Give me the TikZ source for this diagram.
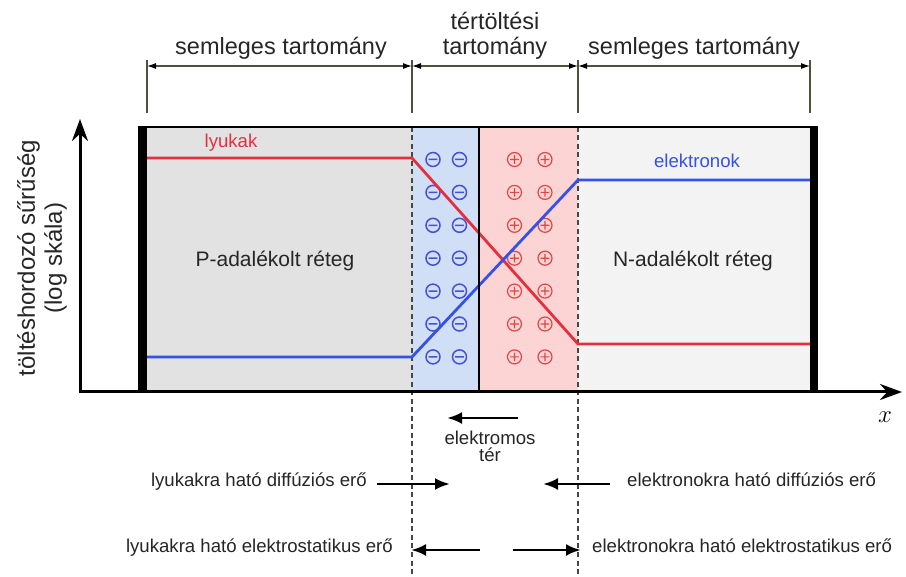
\documentclass[tikz,border=0pt]{standalone}
\usepackage{fontspec}
\setmainfont{Liberation Sans}
\usetikzlibrary{arrows.meta}
\definecolor{pgray}{RGB}{226,226,226}
\definecolor{ngray}{RGB}{243,243,243}
\definecolor{bluereg}{RGB}{208,222,246}
\definecolor{redreg}{RGB}{252,212,212}
\definecolor{holered}{RGB}{228,48,62}
\definecolor{elecblue}{RGB}{52,82,232}
\definecolor{minuscol}{RGB}{70,80,215}
\definecolor{pluscol}{RGB}{225,70,70}
\definecolor{dimcol}{RGB}{80,80,60}
\definecolor{dashcol}{RGB}{70,70,70}
\tikzset{
  toplab/.style={font=\fontsize{23.5}{25}\selectfont, text=black!85, inner sep=0pt, anchor=base},
  reglab/.style={font=\fontsize{21}{24}\selectfont, text=black!85, inner sep=0pt, anchor=base},
  smalllab/.style={font=\fontsize{18.6}{19}\selectfont, text=black!85, inner sep=0pt},
  ylab/.style={font=\fontsize{24}{27}\selectfont, text=black!85, inner sep=0pt, align=center, rotate=90},
  holeline/.style={holered, line width=2.8},
  elecline/.style={elecblue, line width=2.8},
  dashline/.style={dashcol, line width=1.2, dash pattern=on 5pt off 3.5pt},
  extline/.style={dimcol, line width=1.3},
  dimline/.style={dimcol, line width=1.1, {Latex[length=9pt,width=6pt,black]}-{Latex[length=9pt,width=6pt,black]}},
  axisline/.style={black, line width=3, -{Stealth[length=22pt,width=16pt]}},
  forcearrow/.style={black, line width=2.8, -{Latex[length=15pt,width=12pt]}},
  negq/.pic={\draw[minuscol, line width=1.5] (0,0) circle (7) (-4.3,0) -- (4.3,0);},
  posq/.pic={\draw[pluscol, line width=1.2] (0,0) circle (7) (-4.3,0) -- (4.3,0) (0,-4.3) -- (0,4.3);}
}
\begin{document}
\begin{tikzpicture}[x=1pt,y=-1pt]
\useasboundingbox (0,0) rectangle (906,577);
\fill[white] (0,0) rectangle (906,577);
% regions
\fill[pgray] (147,127) rectangle (412,392);
\fill[bluereg] (412,127) rectangle (479,392);
\fill[redreg] (479,127) rectangle (578,392);
\fill[ngray] (578,127) rectangle (810,392);
% charges
\foreach \r in {0,...,6} {
  \pic at (433,{159.5+32.9*\r}) {negq};
  \pic at (459.5,{159.5+32.9*\r}) {negq};
  \pic at (514.5,{159.5+32.9*\r}) {posq};
  \pic at (545,{159.5+32.9*\r}) {posq};
}
% dashed boundaries
\coordinate (da1) at (412,127); \coordinate (da2) at (412,577);
\coordinate (db1) at (578,127); \coordinate (db2) at (578,577);
\draw[dashline] (da1) -- (da2);
\draw[dashline] (db1) -- (db2);
% concentration lines
\draw[holeline] (147,158) -- (412,158) -- (578,344) -- (810,344);
\draw[elecline] (147,357) -- (412,357) -- (578,180) -- (810,180);
% box
\draw[black, line width=1.8] (479,127) -- (479,392);
\draw[black, line width=2.6] (139,127) -- (818,127);
\fill[black] (138,126) rectangle (147,393);
\fill[black] (810,126) rectangle (818,393);
% axes
\coordinate (O) at (79,392);
\coordinate (xend) at (902,392);
\coordinate (yend) at (80,119);
\draw[axisline] (O) -- (xend);
\draw[axisline] (80,393.5) -- (yend);
\node[font=\fontsize{23}{24}\selectfont, inner sep=0pt] (xlab) at (885,417) {$x$};
\node[ylab] (ylabel) at (42,258) {töltéshordozó sűrűség\\(log skála)};
% dimension lines
\foreach \n/\x in {0/147,1/412,2/578,3/810} {
  \coordinate (et\n) at (\x,60);
  \coordinate (eb\n) at (\x,113);
  \coordinate (d\n) at (\x,66);
  \draw[extline] (et\n) -- (eb\n);
}
\draw[dimline] (d0) -- (d1);
\draw[dimline] (d1) -- (d2);
\draw[dimline] (d2) -- (d3);
\node[toplab] (semL) at (281,55) {semleges tartomány};
\node[toplab] (ter1) at (495,30) {tértöltési};
\node[toplab] (ter2) at (495,55) {tartomány};
\node[toplab] (semR) at (694,55) {semleges tartomány};
% region labels
\node[reglab] (plab) at (275,267) {P-adalékolt réteg};
\node[reglab] (nlab) at (693,267) {N-adalékolt réteg};
\node[smalllab, text=holered, anchor=base] (lyukak) at (231,148) {lyukak};
\node[smalllab, text=elecblue, anchor=base] (elektronok) at (697,168) {elektronok};
% electric field
\coordinate (ef1) at (518,418); \coordinate (ef2) at (447,418);
\draw[forcearrow] (ef1) -- (ef2);
\node[smalllab, align=center] (eft) at (490,446) {elektromos\\[-2pt]tér};
% forces
\node[smalllab, anchor=mid east] (hdiff) at (367,484) {lyukakra ható diffúziós erő};
\node[smalllab, anchor=mid east] (hstat) at (393,550) {lyukakra ható elektrostatikus erő};
\node[smalllab, anchor=mid west] (ediff) at (627,484) {elektronokra ható diffúziós erő};
\node[smalllab, anchor=mid west] (estat) at (592,550) {elektronokra ható elektrostatikus erő};
\coordinate (hd1) at (377,484); \coordinate (hd2) at (450,484);
\coordinate (ed1) at (610,484); \coordinate (ed2) at (543,484);
\coordinate (hs1) at (480,550); \coordinate (hs2) at (411,550);
\coordinate (es1) at (513,550); \coordinate (es2) at (581,550);
\draw[forcearrow] (hd1) -- (hd2);
\draw[forcearrow] (ed1) -- (ed2);
\draw[forcearrow] (hs1) -- (hs2);
\draw[forcearrow] (es1) -- (es2);
\end{tikzpicture}
\end{document}
